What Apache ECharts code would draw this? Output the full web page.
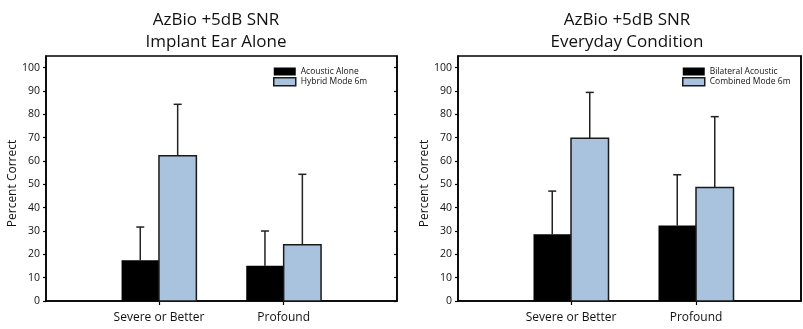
<!DOCTYPE html>
<html>
<head>
<meta charset="utf-8">
<script src="https://cdn.jsdelivr.net/npm/echarts@6/dist/echarts.min.js"></script>
<style>
html,body{margin:0;padding:0;background:#fff;}
#chart{width:803px;height:329px;}
</style>
</head>
<body>
<div id="chart"></div>
<script>
// ---- data ----
const categories = ['Severe or Better', 'Profound'];
const yTickValues = [0, 10, 20, 30, 40, 50, 60, 70, 80, 90, 100];

const leftTitle = 'AzBio +5dB SNR\nImplant Ear Alone';
const leftNames = ['Acoustic Alone', 'Hybrid Mode 6m'];
const leftAcoustic = [17.5, 15.1];
const leftAcousticErrTop = [31.7, 30.0];
const leftHybrid = [62.3, 24.1];
const leftHybridErrTop = [84.3, 54.3];

const rightTitle = 'AzBio +5dB SNR\nEveryday Condition';
const rightNames = ['Bilateral Acoustic', 'Combined Mode 6m'];
const rightBilateral = [28.6, 32.4];
const rightBilateralErrTop = [47.1, 54.1];
const rightCombined = [69.7, 48.6];
const rightCombinedErrTop = [89.4, 79.0];

// ---- styles ----
const FONT = 'Open Sans';
const BLACK = '#000000';
const BLUE = '#a9c3de';
const EDGE = '#1a1a1a';
const BAR_W = 0.3; // bar width in category units

function toPoints(vals, errs) {
  return vals.map((v, i) => errs ? [i + 1, v, errs[i]] : [i + 1, v]);
}

function barRender(side, fill, stroke, lw) {
  return function (params, api) {
    const x = api.value(0), y = api.value(1);
    const p0 = api.coord([x, 0]);
    const p1 = api.coord([x + side * BAR_W, y]);
    return {
      type: 'rect',
      shape: { x: Math.min(p0[0], p1[0]), y: p1[1], width: Math.abs(p1[0] - p0[0]), height: p0[1] - p1[1] },
      style: { fill: fill, stroke: stroke, lineWidth: lw }
    };
  };
}

function errRender(side) {
  return function (params, api) {
    const x = api.value(0) + side * BAR_W / 2, y = api.value(1), e = api.value(2);
    const a = api.coord([x, y]);
    const b = api.coord([x, e]);
    return {
      type: 'group',
      children: [
        { type: 'line', shape: { x1: a[0], y1: a[1], x2: b[0], y2: b[1] }, style: { stroke: '#222', lineWidth: 1.5 } },
        { type: 'line', shape: { x1: b[0] - 4, y1: b[1], x2: b[0] + 4, y2: b[1] }, style: { stroke: '#222', lineWidth: 1.5 } }
      ]
    };
  };
}

function panelAxes(gi, xmin, xmax, rightTicks) {
  const xAxis = {
    gridIndex: gi, type: 'value', min: xmin, max: xmax,
    splitLine: { show: false },
    axisLine: { show: true, onZero: false, lineStyle: { color: BLACK, width: 1.5 } },
    axisTick: { show: true, length: 4, customValues: [1, 2], lineStyle: { color: BLACK, width: 1.2 } },
    axisLabel: { customValues: [1, 2], margin: 11, color: '#111', fontFamily: FONT, fontSize: 12,
      formatter: v => categories[Math.round(v) - 1] || '' }
  };
  const yAxes = [{
    gridIndex: gi, type: 'value', min: 0, max: 105, interval: 10,
    name: 'Percent Correct', nameLocation: 'middle', nameGap: 24, nameRotate: 90,
    nameTextStyle: { fontFamily: FONT, fontSize: 12, color: '#111', padding: [0, 0, 0, -10] },
    splitLine: { show: false },
    axisLine: { show: true, lineStyle: { color: BLACK, width: 1.5 } },
    axisTick: { show: true, length: 3, customValues: yTickValues, lineStyle: { color: BLACK, width: 1.2 } },
    axisLabel: { customValues: yTickValues, margin: 6, color: '#111', fontFamily: FONT, fontSize: 10.5 }
  }, {
    gridIndex: gi, type: 'value', min: 0, max: 105, interval: 10, position: 'right',
    splitLine: { show: false },
    axisLine: { show: true, lineStyle: { color: BLACK, width: 1.5 } },
    axisTick: { show: rightTicks, inside: true, length: 3, customValues: yTickValues, lineStyle: { color: BLACK, width: 1.2 } },
    axisLabel: { show: false }
  }];
  return { xAxis, yAxes };
}

const L = panelAxes(0, 0.094, 2.909, true);
const R = panelAxes(1, 0.096, 2.84, false);

function legendFor(names, left) {
  return {
    left: left, top: 67, orient: 'vertical', padding: 0, itemGap: 1,
    itemWidth: 22, itemHeight: 8, icon: 'rect', selectedMode: false,
    textStyle: { fontFamily: FONT, fontSize: 8.5, color: '#111', padding: [0, 0, 0, 0] },
    itemStyle: {},
    data: [
      { name: names[0], itemStyle: { color: BLACK, borderWidth: 0 } },
      { name: names[1], itemStyle: { color: BLUE, borderColor: EDGE, borderWidth: 1.5 } }
    ]
  };
}

function barSeries(name, gi, yi, data, side, fill, stroke, lw) {
  return { name: name, type: 'custom', xAxisIndex: gi, yAxisIndex: yi, data: data,
    encode: { x: 0, y: 1 }, renderItem: barRender(side, fill, stroke, lw), clip: false, z: 2,
    itemStyle: { color: fill } };
}
function errSeries(gi, yi, data, side) {
  return { type: 'custom', xAxisIndex: gi, yAxisIndex: yi, data: data,
    encode: { x: 0, y: [1, 2] }, renderItem: errRender(side), clip: false, z: 1, silent: true };
}

const option = {
  animation: false,
  backgroundColor: '#ffffff',
  title: [
    { text: leftTitle, left: 211, top: 4, textAlign: 'center',
      textStyle: { fontFamily: FONT, fontSize: 17, fontWeight: 'normal', color: '#111', lineHeight: 22 } },
    { text: rightTitle, left: 622, top: 4, textAlign: 'center',
      textStyle: { fontFamily: FONT, fontSize: 17, fontWeight: 'normal', color: '#111', lineHeight: 22 } }
  ],
  legend: [legendFor(leftNames, 273), legendFor(rightNames, 682)],
  grid: [
    { left: 46, right: 406, top: 56, bottom: 28, show: true, borderColor: BLACK, borderWidth: 1.5 },
    { left: 458, right: 2, top: 56, bottom: 28, show: true, borderColor: BLACK, borderWidth: 1.5 }
  ],
  xAxis: [L.xAxis, R.xAxis],
  yAxis: [L.yAxes[0], L.yAxes[1], R.yAxes[0], R.yAxes[1]].map((a, i) => Object.assign({}, a, { gridIndex: i < 2 ? 0 : 1 })),
  series: [
    errSeries(0, 0, toPoints(leftAcoustic, leftAcousticErrTop), -1),
    errSeries(0, 0, toPoints(leftHybrid, leftHybridErrTop), 1),
    barSeries(leftNames[0], 0, 0, toPoints(leftAcoustic), -1, BLACK, BLACK, 0),
    barSeries(leftNames[1], 0, 0, toPoints(leftHybrid), 1, BLUE, EDGE, 1.5),
    errSeries(1, 2, toPoints(rightBilateral, rightBilateralErrTop), -1),
    errSeries(1, 2, toPoints(rightCombined, rightCombinedErrTop), 1),
    barSeries(rightNames[0], 1, 2, toPoints(rightBilateral), -1, BLACK, BLACK, 0),
    barSeries(rightNames[1], 1, 2, toPoints(rightCombined), 1, BLUE, EDGE, 1.5)
  ]
};

const chart = echarts.init(document.getElementById('chart'), null, { renderer: 'canvas' });
chart.setOption(option);
</script>
</body>
</html>
